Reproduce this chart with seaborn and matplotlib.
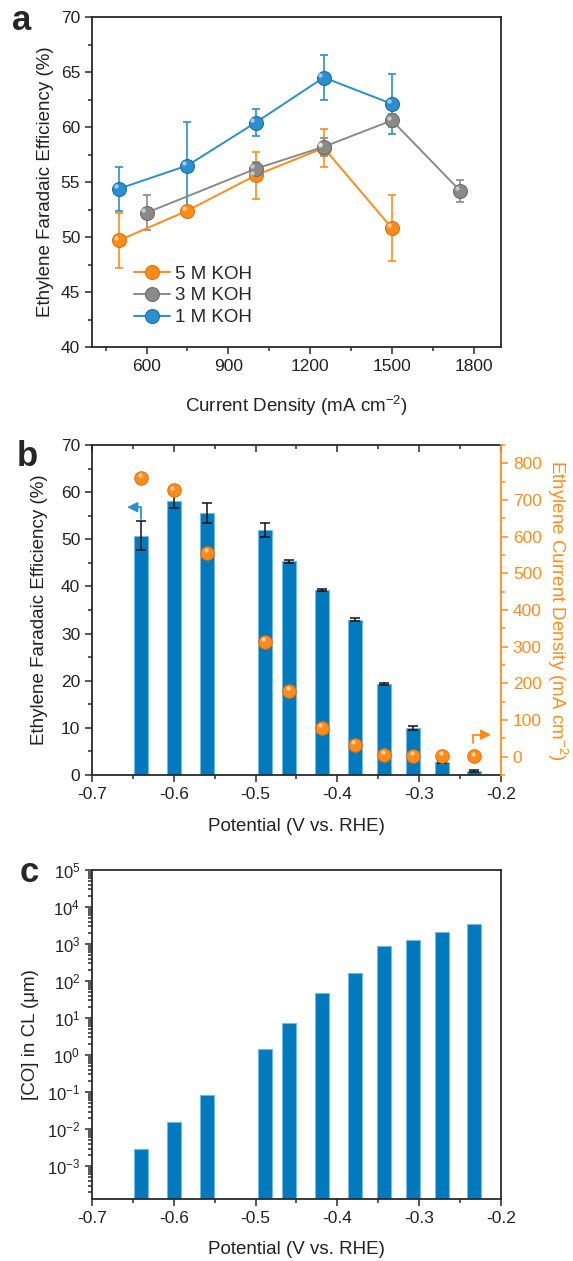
import numpy as np
import pandas as pd
import matplotlib
matplotlib.use('Agg')
import matplotlib.pyplot as plt
import seaborn as sns
from matplotlib.ticker import MultipleLocator, LogLocator, NullFormatter, FixedLocator

# ---------------- data ----------------
# panel a
j_1M = [500, 750, 1000, 1250, 1500]
fe_1M = [54.4, 56.5, 60.4, 64.5, 62.1]
err_1M = [2.0, 4.0, 1.2, 2.05, 2.7]
j_3M = [600, 1000, 1250, 1500, 1750]
fe_3M = [52.2, 56.2, 58.2, 60.6, 54.2]
err_3M = [1.6, 0.6, 0.8, 0.6, 1.0]
j_5M = [500, 750, 1000, 1250, 1500]
fe_5M = [49.7, 52.4, 55.6, 58.1, 50.8]
err_5M = [2.5, 0.3, 2.1, 1.7, 3.0]
series_labels = ['5 M KOH', '3 M KOH', '1 M KOH']

# panel b / c
potential = [-0.640, -0.600, -0.559, -0.489, -0.459, -0.419, -0.379, -0.343, -0.307, -0.272, -0.233]
fe_b = [50.8, 58.1, 55.5, 51.9, 45.3, 39.2, 32.9, 19.3, 10.0, 2.8, 0.85]
fe_b_err = [3.1, 1.5, 2.1, 1.5, 0.3, 0.2, 0.3, 0.2, 0.4, 0.2, 0.15]
j_c2h4 = [761, 726, 555, 314, 180, 78, 33, 4.5, 1.8, 0.8, 0.5]
co_conc = [0.003, 0.0155, 0.083, 1.42, 7.3, 48, 170, 890, 1290, 2080, 3540]

# ---------------- style ----------------
sns.set_style('ticks')
plt.rcParams['font.family'] = ['Liberation Sans', 'DejaVu Sans']
plt.rcParams['mathtext.fontset'] = 'custom'
plt.rcParams['mathtext.rm'] = 'Liberation Sans'
plt.rcParams['mathtext.it'] = 'Liberation Sans:italic'
plt.rcParams['mathtext.bf'] = 'Liberation Sans:bold'

BLUE = '#2b8fcf'
GRAY = '#8a8a8a'
ORANGE = '#ff8c1a'
BAR = '#0079bd'
BAREDGE = '#74b9e3'
SPINE = '#2a2a2a'
FS = 12.5
LFS = 13.5

W, H = 573, 1261
fig = plt.figure(figsize=(W / 100, H / 100), dpi=100)


def ax_rect(left, right, top, bottom):
    return [left / W, 1 - bottom / H, (right - left) / W, (bottom - top) / H]


def style_axes(ax):
    for s in ax.spines.values():
        s.set_color(SPINE)
        s.set_linewidth(1.3)
    ax.tick_params(which='both', direction='out', color=SPINE, width=1.1,
                   labelsize=FS, labelcolor='#222222')
    ax.tick_params(which='major', length=5)
    ax.tick_params(which='minor', length=3)


# ---------------- panel a ----------------
axa = fig.add_axes(ax_rect(92, 501, 17, 347))
df_a = pd.DataFrame({
    'j': j_5M + j_3M + j_1M,
    'fe': fe_5M + fe_3M + fe_1M,
    'err': err_5M + err_3M + err_1M,
    'series': [series_labels[0]] * len(j_5M) + [series_labels[1]] * len(j_3M) + [series_labels[2]] * len(j_1M),
})
pal = {series_labels[0]: ORANGE, series_labels[1]: GRAY, series_labels[2]: BLUE}
edge = {series_labels[0]: '#e0700a', series_labels[1]: '#6e6e6e', series_labels[2]: '#1670ad'}
for lab in series_labels:
    d = df_a[df_a['series'] == lab]
    axa.errorbar(d['j'], d['fe'], yerr=d['err'], fmt='none', ecolor=pal[lab],
                 elinewidth=1.2, capsize=3, capthick=1.2, zorder=2)
sns.lineplot(data=df_a, x='j', y='fe', hue='series', hue_order=series_labels,
             palette=pal, marker='o', markersize=10, linewidth=1.4,
             markeredgewidth=0.8, ax=axa, legend=True, zorder=3, sort=False)
for line in axa.get_lines():
    c = line.get_color()
    for lab in series_labels:
        if matplotlib.colors.same_color(c, pal[lab]):
            line.set_markeredgecolor(edge[lab])
# highlight on the balls
for lab in series_labels:
    d = df_a[df_a['series'] == lab]
    axa.scatter(d['j'] - 12, d['fe'] + 0.25, s=10, color='white', alpha=0.55,
                linewidths=0, zorder=5)

axa.set_xlim(400, 1900)
axa.set_ylim(40, 70)
axa.xaxis.set_major_locator(FixedLocator([600, 900, 1200, 1500, 1800]))
axa.xaxis.set_minor_locator(FixedLocator([450, 750, 1050, 1350, 1650]))
axa.yaxis.set_major_locator(MultipleLocator(5))
axa.yaxis.set_minor_locator(MultipleLocator(2.5))
style_axes(axa)
axa.set_xlabel('Current Density (mA cm$^{-2}$)', fontsize=LFS, color='#222222')
axa.set_ylabel('Ethylene Faradaic Efficiency (%)', fontsize=LFS, color='#222222')
axa.xaxis.set_label_coords(0.5, -0.142)
axa.yaxis.set_label_coords(-0.093, 0.5)
leg = axa.legend(loc='lower left', bbox_to_anchor=(0.085, 0.04), frameon=False,
                 fontsize=LFS, handlelength=1.9, handletextpad=0.25,
                 labelspacing=0.25, borderaxespad=0)
for h in leg.legend_handles:
    h.set_markersize(10)

fig.text(22 / W, 1 - 20 / H, 'a', fontsize=25, fontweight='bold', ha='center', va='center')

# ---------------- panel b ----------------
axb = fig.add_axes(ax_rect(92, 501, 445, 775))
df_b = pd.DataFrame({'potential': potential, 'fe': fe_b, 'err': fe_b_err, 'j': j_c2h4})
sns.barplot(data=df_b, x='potential', y='fe', native_scale=True, width=0.57,
            color=BAR, saturation=1, errorbar=None, edgecolor=BAREDGE,
            linewidth=0.8, ax=axb, zorder=2)
axb.errorbar(df_b['potential'], df_b['fe'], yerr=df_b['err'], fmt='none',
             ecolor='#111111', elinewidth=1.1, capsize=3.5, capthick=1.1, zorder=3)
axb.set_xlim(-0.7, -0.2)
axb.set_ylim(0, 70)
axb.xaxis.set_major_locator(MultipleLocator(0.1))
axb.xaxis.set_minor_locator(MultipleLocator(0.05))
axb.xaxis.set_major_formatter(matplotlib.ticker.FuncFormatter(lambda v, p: f'{v:.1f}'))
axb.yaxis.set_major_locator(MultipleLocator(10))
axb.yaxis.set_minor_locator(MultipleLocator(5))
style_axes(axb)
axb.spines['right'].set_visible(False)
axb.set_xlabel('Potential (V vs. RHE)', fontsize=LFS, color='#222222')
axb.set_ylabel('Ethylene Faradaic Efficiency (%)', fontsize=LFS, color='#222222')
axb.xaxis.set_label_coords(0.5, -0.13)
axb.yaxis.set_label_coords(-0.108, 0.5)

top_b = axb.secondary_xaxis('top')
top_b.xaxis.set_major_locator(MultipleLocator(0.1))
top_b.xaxis.set_minor_locator(MultipleLocator(0.05))
top_b.tick_params(which='both', direction='in', color=SPINE, width=1.1, labeltop=False)
top_b.tick_params(which='major', length=5)
top_b.tick_params(which='minor', length=3)
top_b.spines['top'].set_visible(False)

axb2 = axb.twinx()
sns.scatterplot(data=df_b, x='potential', y='j', ax=axb2, color=ORANGE, s=95,
                edgecolor='#e56f00', linewidth=0.7, zorder=4, legend=False)
axb2.scatter(df_b['potential'] - 0.0017, df_b['j'] + 8, s=9, color='white',
             alpha=0.6, linewidths=0, zorder=5)
axb2.set_ylim(-50, 850)
axb2.yaxis.set_major_locator(MultipleLocator(100))
axb2.yaxis.set_minor_locator(MultipleLocator(50))
for s in ['left', 'top', 'bottom']:
    axb2.spines[s].set_visible(False)
axb2.spines['right'].set_color(ORANGE)
axb2.spines['right'].set_linewidth(1.3)
axb2.tick_params(which='both', direction='out', color=ORANGE, width=1.1,
                 labelsize=FS, labelcolor=ORANGE)
axb2.tick_params(which='major', length=5)
axb2.tick_params(which='minor', length=3)
axb2.set_ylabel('Ethylene Current Density (mA cm$^{-2}$)', fontsize=LFS,
                color=ORANGE, rotation=270, va='center')
axb2.yaxis.set_label_coords(1.138, 0.5)
axb2.set_xlabel('')

# direction arrows
axb.annotate('', xy=(-0.657, 56.8), xytext=(-0.6405, 54.4),
             arrowprops=dict(arrowstyle='-|>,head_length=0.6,head_width=0.3', color=BLUE,
                             lw=1.3, connectionstyle='angle,angleA=90,angleB=0,rad=0',
                             shrinkA=0, shrinkB=0), zorder=6)
axb2.annotate('', xy=(-0.212, 60), xytext=(-0.234, 38),
              arrowprops=dict(arrowstyle='-|>,head_length=0.6,head_width=0.3', color=ORANGE,
                              lw=1.3, connectionstyle='angle,angleA=90,angleB=0,rad=0',
                              shrinkA=0, shrinkB=0), zorder=6)

fig.text(27 / W, 1 - 457 / H, 'b', fontsize=25, fontweight='bold', ha='center', va='center')

# ---------------- panel c ----------------
axc = fig.add_axes(ax_rect(92, 501, 870, 1199))
axc.set_yscale('log')
df_c = pd.DataFrame({'potential': potential, 'co': co_conc})
sns.barplot(data=df_c, x='potential', y='co', native_scale=True, width=0.57,
            color=BAR, saturation=1, errorbar=None, edgecolor=BAREDGE,
            linewidth=0.8, ax=axc, zorder=2)
axc.set_yscale('log')
axc.set_xlim(-0.7, -0.2)
axc.set_ylim(1.3e-4, 1e5)
axc.xaxis.set_major_locator(MultipleLocator(0.1))
axc.xaxis.set_minor_locator(MultipleLocator(0.05))
axc.xaxis.set_major_formatter(matplotlib.ticker.FuncFormatter(lambda v, p: f'{v:.1f}'))
axc.yaxis.set_major_locator(LogLocator(base=10, numticks=20))
axc.yaxis.set_minor_locator(LogLocator(base=10, subs=np.arange(2, 10), numticks=20))
axc.yaxis.set_minor_formatter(NullFormatter())
style_axes(axc)
axc.tick_params(axis='y', which='major', labelsize=FS - 0.5)
axc.set_xlabel('Potential (V vs. RHE)', fontsize=LFS, color='#222222')
axc.set_ylabel('[CO] in CL (μm)', fontsize=LFS, color='#222222')
axc.xaxis.set_label_coords(0.5, -0.128)
axc.yaxis.set_label_coords(-0.13, 0.5)

fig.text(29 / W, 1 - 872 / H, 'c', fontsize=25, fontweight='bold', ha='center', va='center')

fig.savefig('out.png', dpi=100)
